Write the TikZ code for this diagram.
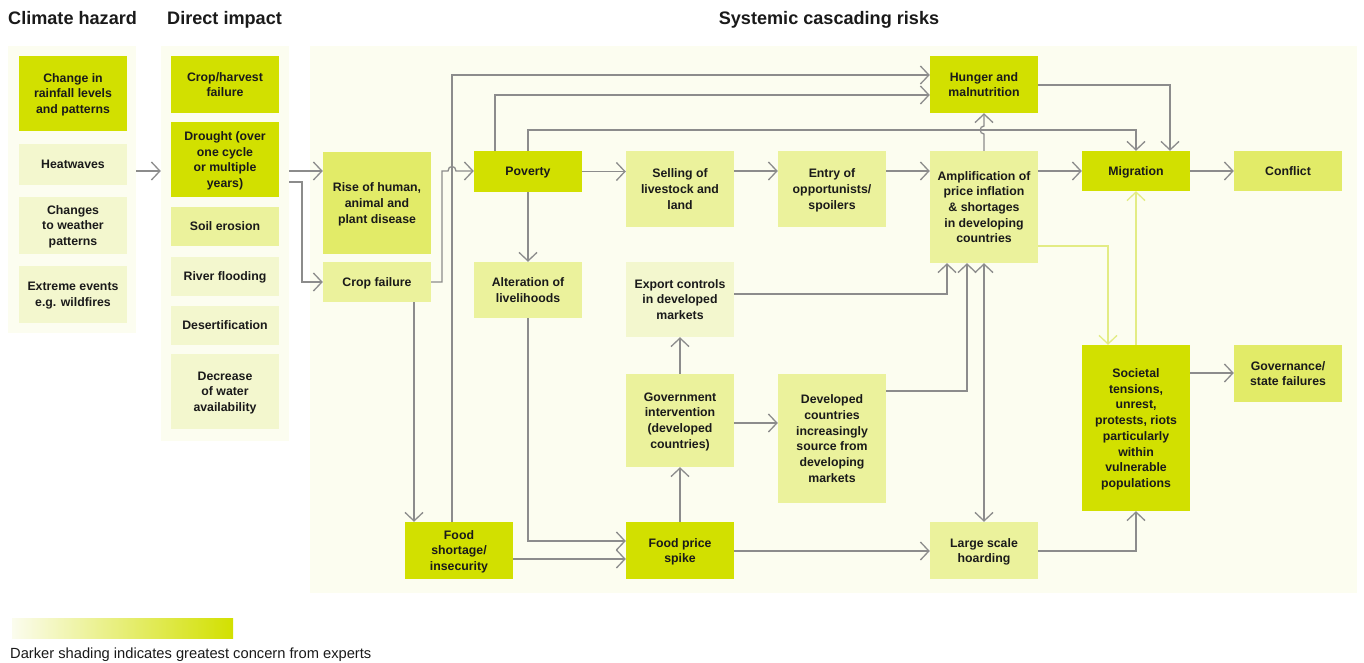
\documentclass[tikz,border=0pt]{standalone}
\usepackage{fontspec}
\setmainfont{Liberation Sans}
\usetikzlibrary{arrows.meta,calc}
\definecolor{cdark}{HTML}{D2E000}
\definecolor{cmed}{HTML}{E2EB68}
\definecolor{clight}{HTML}{EBF29C}
\definecolor{cvlight}{HTML}{F3F7CE}
\definecolor{cpanel}{HTML}{FCFDF0}
\definecolor{cline}{HTML}{8C8C8C}
\definecolor{clline}{HTML}{E3EC84}
\definecolor{clegl}{HTML}{FBFCEE}
\definecolor{ctext}{HTML}{1A1A1A}
\begin{document}
\begin{tikzpicture}[x=1pt,y=-1pt,
  panel/.style={fill=cpanel, inner sep=0pt, minimum width=#1},
  box/.style={inner sep=0pt, align=center, text=ctext,
    font=\fontsize{12.3}{15.7}\selectfont\bfseries,
    text depth=-2pt},
  dk/.style={box, fill=cdark},
  md/.style={box, fill=cmed},
  lt/.style={box, fill=clight},
  vl/.style={box, fill=cvlight},
  wd/.style={minimum width=108pt},
  ht/.style={minimum height=#1},
  title/.style={font=\fontsize{18.1}{21}\selectfont\bfseries, text=ctext, inner sep=0pt},
  conn/.style={draw=cline, line width=1.3pt, -{Straight Barb[length=8.5pt,width=18pt]}},
  conn2/.style={draw=cline, line width=1.3pt, {Straight Barb[length=8.5pt,width=18pt]}-{Straight Barb[length=8.5pt,width=18pt]}},
  lconn/.style={draw=clline, line width=1.3pt, -{Straight Barb[length=8.5pt,width=18pt]}}
]
\useasboundingbox (0,0) rectangle (1364,662);
\fill[white] (0,0) rectangle (1364,662);

% titles
\node[title, anchor=base west] (t1) at (8,24) {Climate hazard};
\node[title, anchor=base west] (t2) at (167,24) {Direct impact};
\node[title, anchor=base] (t3) at (829,24) {Systemic cascading risks};

% panels
\node[panel=128pt, minimum height=287pt] (chp) at (72,189.5) {};
\node[panel=128pt, minimum height=395pt] (dip) at (225,243.5) {};
\node[panel=1047pt, minimum height=547pt] (sysp) at (833.5,319.5) {};

% climate hazard
\node[dk, wd, ht=75pt] (ch1) at (73,93.5) {Change in\\rainfall levels\\and patterns};
\node[vl, wd, ht=41pt] (ch2) at (73,164.5) {Heatwaves};
\node[vl, wd, ht=57pt] (ch3) at (73,225.5) {Changes\\to weather\\patterns};
\node[vl, wd, ht=57pt] (ch4) at (73,294.5) {Extreme events\\e.g. wildfires};

% direct impact
\node[dk, wd, ht=57pt] (di1) at (225,84.5) {Crop/harvest\\failure};
\node[dk, wd, ht=75pt] (di2) at (225,159.5) {Drought (over\\one cycle\\or multiple\\years)};
\node[lt, wd, ht=39pt] (di3) at (225,226.5) {Soil erosion};
\node[vl, wd, ht=39pt] (di4) at (225,276.5) {River flooding};
\node[vl, wd, ht=39pt] (di5) at (225,325.5) {Desertification};
\node[vl, wd, ht=75pt] (di6) at (225,391.5) {Decrease\\of water\\availability};

% systemic
\node[md, wd, ht=102pt] (rise) at (377,203) {Rise of human,\\animal and\\plant disease};
\node[lt, wd, ht=40pt] (cropf) at (377,282) {Crop failure};
\node[dk, wd, ht=41pt] (poverty) at (528,171.5) {Poverty};
\node[lt, wd, ht=56pt] (alter) at (528,290) {Alteration of\\livelihoods};
\node[dk, wd, ht=57pt] (foodshort) at (459,550.5) {Food\\shortage/\\insecurity};
\node[lt, wd, ht=76pt] (selling) at (680,189) {Selling of\\livestock and\\land};
\node[lt, wd, ht=76pt] (entry) at (832,189) {Entry of\\opportunists/\\spoilers};
\node[vl, wd, ht=75pt] (export) at (680,299.5) {Export controls\\in developed\\markets};
\node[lt, wd, ht=93pt] (gov) at (680,420.5) {Government\\intervention\\(developed\\countries)};
\node[dk, wd, ht=57pt] (foodprice) at (680,550.5) {Food price\\spike};
\node[lt, wd, ht=129pt] (developed) at (832,438.5) {Developed\\countries\\increasingly\\source from\\developing\\markets};
\node[dk, wd, ht=57pt] (hunger) at (984,84.5) {Hunger and\\malnutrition};
\node[lt, wd, ht=112pt] (amp) at (984,207) {Amplification of\\price inflation\\\&{} shortages\\in developing\\countries};
\node[lt, wd, ht=57pt] (hoard) at (984,550.5) {Large scale\\hoarding};
\node[dk, wd, ht=40pt] (migration) at (1136,171) {Migration};
\node[md, wd, ht=40pt] (conflict) at (1288,171) {Conflict};
\node[dk, wd, ht=166pt] (societal) at (1136,428) {Societal\\tensions,\\unrest,\\protests, riots\\particularly\\within\\vulnerable\\populations};
\node[md, wd, ht=57pt] (governance) at (1288,373.5) {Governance/\\state failures};

% connectors
\draw[conn] (chp.east |- 0,171) -- (dip.west |- 0,171);
\draw[conn] (dip.east |- 0,171) -- (rise.west |- 0,171);
\draw[conn] (dip.east |- 0,182) -- (302,182) -- (302,282) -- (cropf.west);
\draw[conn] (cropf.east) -- (442,282) -- (442,171) -- (448,171)
  .. controls (448,165) and (456,165) .. (456,171) -- (poverty.west |- 0,171);
\draw[conn] (foodshort.north -| 452,0) -- (452,75) -- (hunger.west |- 0,75);
\draw[conn] (poverty.north -| 495,0) -- (495,95) -- (hunger.west |- 0,95);
\draw[conn] (poverty.north) -- (528,130) -- (1136,130) -- (migration.north);
\draw[conn] (poverty.south) -- (alter.north);
\draw[conn] (poverty.east) -- (selling.west |- poverty.east);
\draw[conn] (selling.east |- 0,171) -- (entry.west |- 0,171);
\draw[conn] (entry.east |- 0,171) -- (amp.west |- 0,171);
\draw[conn] (amp.north) -- (984,134) .. controls (979,134) and (979,126) .. (984,126) -- (hunger.south);
\draw[conn] (hunger.east |- 0,85) -- (1170,85) -- (migration.north -| 1170,0);
\draw[conn] (amp.east |- 0,171) -- (migration.west);
\draw[conn] (migration.east) -- (conflict.west);
\draw[lconn] (amp.east |- 0,246) -- (1108,246) -- (societal.north -| 1108,0);
\draw[lconn] (societal.north) -- (migration.south);
\draw[conn] (cropf.south -| 414,0) -- (foodshort.north -| 414,0);
\draw[conn] (alter.south) -- (528,541) -- (foodprice.west |- 0,541);
\draw[conn] (foodshort.east |- 0,559) -- (foodprice.west |- 0,559);
\draw[conn] (foodprice.north) -- (gov.south);
\draw[conn] (gov.north) -- (export.south);
\draw[conn] (export.east |- 0,294) -- (947,294) -- (amp.south -| 947,0);
\draw[conn] (gov.east |- 0,423) -- (developed.west |- 0,423);
\draw[conn] (developed.east |- 0,391) -- (967,391) -- (amp.south -| 967,0);
\draw[conn2] (amp.south) -- (hoard.north);
\draw[conn] (foodprice.east |- 0,551) -- (hoard.west |- 0,551);
\draw[conn] (hoard.east |- 0,551) -- (1136,551) -- (societal.south);
\draw[conn] (societal.east |- 0,373) -- (governance.west |- 0,373);

% legend
\node[inner sep=0pt, minimum width=221pt, minimum height=20pt, left color=clegl, right color=cdark] (legbar) at (122.5,628) {};
\node[anchor=base west, inner sep=0pt, text=ctext, font=\fontsize{14.7}{17}\selectfont] (legtext) at (10,658) {Darker shading indicates greatest concern from experts};
\end{tikzpicture}
\end{document}
